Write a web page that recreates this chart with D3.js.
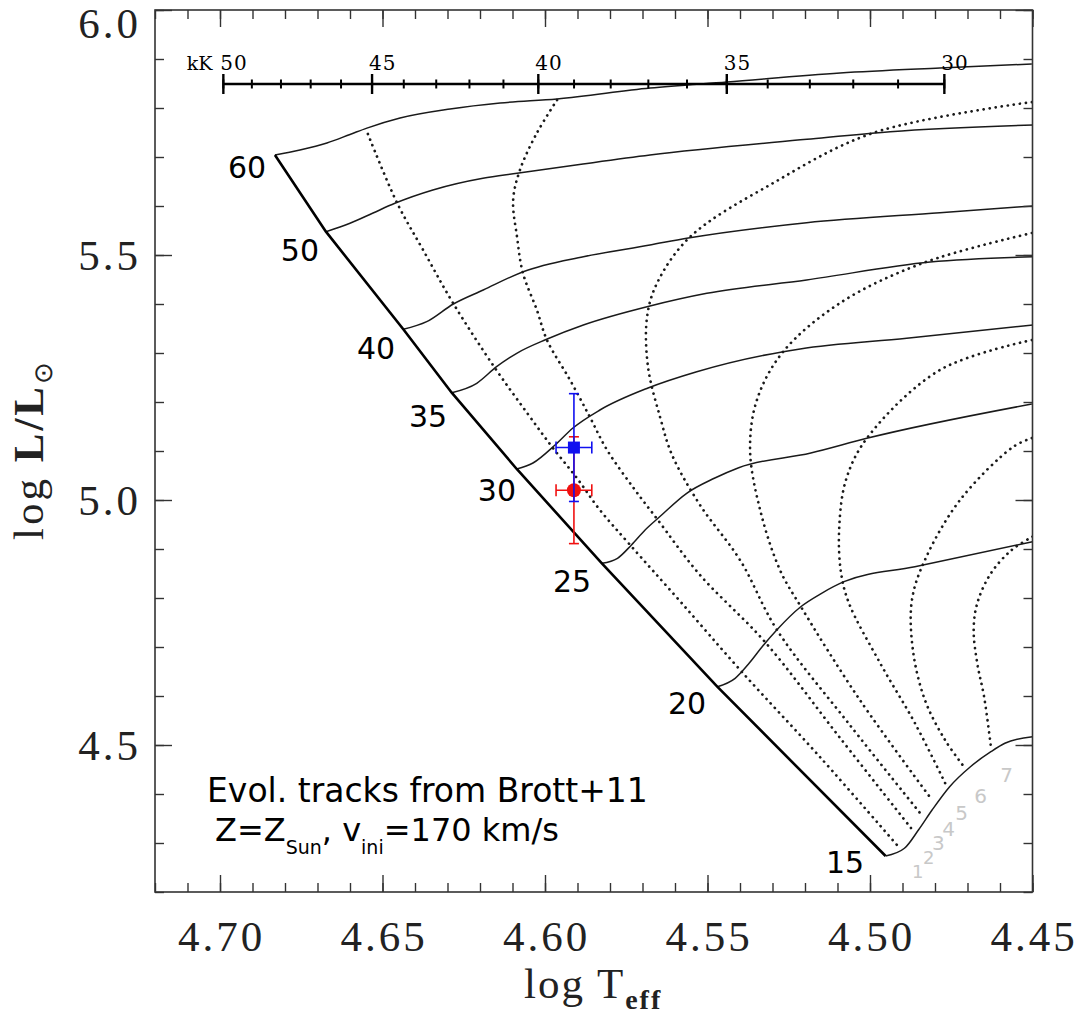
<!DOCTYPE html>
<html>
<head>
<meta charset="utf-8">
<script src="https://cdn.jsdelivr.net/npm/d3@7"></script>
<style>
  body { margin: 0; background: #fff; }
  svg { display: block; }
</style>
</head>
<body>
<svg id="chart" width="1078" height="1014"></svg>
<script>
// -------------------------
// Data (log Teff, log L/Lsun)
// -------------------------
const masses = [15, 20, 25, 30, 35, 40, 50, 60];

// evolutionary tracks, first point = ZAMS
const track15 = [[4.4952,4.2735],[4.4894,4.2892],[4.4851,4.3265],[4.4809,4.3673],[4.4755,4.4149],[4.4691,4.4557],[4.4628,4.4863],[4.4585,4.5035],[4.4500,4.5169]];
const track20 = [[4.5470,4.6190],[4.5415,4.6361],[4.5372,4.6667],[4.5330,4.7020],[4.5287,4.7347],[4.5213,4.7822],[4.5149,4.8096],[4.5080,4.8333],[4.4862,4.8639],[4.4500,4.9149]];
const track25 = [[4.5825,4.8708],[4.5777,4.8810],[4.5734,4.9082],[4.5692,4.9388],[4.5649,4.9647],[4.5564,5.0137],[4.5479,5.0443],[4.5404,5.0659],[4.5182,5.0959],[4.5010,5.1259],[4.4502,5.1959]];
const track30 = [[4.6087,5.0633],[4.6037,5.0755],[4.5969,5.1122],[4.5914,5.1469],[4.5831,5.1837],[4.5683,5.2286],[4.5533,5.2618],[4.5267,5.3027],[4.5215,5.3082],[4.4887,5.3300],[4.4498,5.3571]];
const track35 = [[4.6287,5.2190],[4.6210,5.2382],[4.6149,5.2720],[4.6087,5.2994],[4.5995,5.3280],[4.5882,5.3571],[4.5677,5.3959],[4.5502,5.4218],[4.5195,5.4490],[4.4815,5.4857],[4.4498,5.4965]];
const track40 = [[4.6436,5.3484],[4.6364,5.3639],[4.6282,5.4000],[4.6190,5.4286],[4.6067,5.4659],[4.5882,5.4965],[4.5677,5.5204],[4.5564,5.5341],[4.5195,5.5659],[4.4785,5.5863],[4.4498,5.6000]];
const track50 = [[4.6674,5.5476],[4.6600,5.5647],[4.6529,5.5857],[4.6462,5.6055],[4.6345,5.6327],[4.6191,5.6566],[4.6086,5.6667],[4.5883,5.6857],[4.5677,5.7040],[4.5194,5.7361],[4.4938,5.7516],[4.4498,5.7653]];
const track60 = [[4.6831,5.7040],[4.6754,5.7143],[4.6671,5.7286],[4.6600,5.7460],[4.6548,5.7590],[4.6446,5.7796],[4.6292,5.7980],[4.6138,5.8102],[4.5963,5.8184],[4.5677,5.8408],[4.5440,5.8531],[4.5092,5.8714],[4.4785,5.8816],[4.4502,5.8898]];
const tracks = [track15, track20, track25, track30, track35, track40, track50, track60];

// where the mass labels sit
const massLabelT = [4.5077, 4.5563, 4.5917, 4.6148, 4.6360, 4.6520, 4.6754, 4.6917];
const massLabelL = [4.2612, 4.5857, 4.8327, 5.0184, 5.1714, 5.3102, 5.5102, 5.6776];

// isochrones 1..7 Myr
const iso1 = [[4.6545,5.7469],[4.6455,5.6061],[4.6375,5.5102],[4.6283,5.4020],[4.6154,5.2694],[4.6055,5.1776],[4.5978,5.1082],[4.5902,5.0449],[4.5831,4.9796],[4.5738,4.9082],[4.5585,4.7939],[4.5394,4.6490],[4.5154,4.4755],[4.4917,4.2959]];
const iso2 = [[4.5963,5.8163],[4.6025,5.7490],[4.6077,5.6735],[4.6098,5.6122],[4.6086,5.5367],[4.6068,5.4633],[4.6025,5.3878],[4.5994,5.3265],[4.5923,5.2449],[4.5862,5.1694],[4.5809,5.1020],[4.5723,5.0204],[4.5655,4.9612],[4.5523,4.8469],[4.5323,4.7102],[4.5092,4.5143],[4.4874,4.3306]];
const iso3 = [[4.4502,5.8122],[4.4991,5.7490],[4.5298,5.6469],[4.5554,5.5367],[4.5655,5.4429],[4.5686,5.3735],[4.5683,5.2714],[4.5646,5.1694],[4.5609,5.0918],[4.5523,4.9898],[4.5400,4.8776],[4.5286,4.7347],[4.5062,4.5408],[4.4846,4.3612]];
const iso4 = [[4.4502,5.5449],[4.4837,5.4837],[4.5092,5.4020],[4.5268,5.3020],[4.5348,5.2041],[4.5369,5.1020],[4.5338,4.9796],[4.5277,4.8571],[4.5212,4.7816],[4.5031,4.5918],[4.4809,4.3878]];
const iso5 = [[4.4502,5.3265],[4.4785,5.2653],[4.5009,5.1265],[4.5074,5.0408],[4.5095,4.9388],[4.5089,4.8510],[4.5065,4.7898],[4.4969,4.6673],[4.4862,4.5449],[4.4766,4.4184]];
const iso6 = [[4.4502,5.1265],[4.4560,5.1082],[4.4723,5.0000],[4.4831,4.8776],[4.4871,4.7959],[4.4868,4.6939],[4.4831,4.5918],[4.4769,4.5102],[4.4708,4.4531]];
const iso7 = [[4.4500,4.9251],[4.4564,4.8980],[4.4628,4.8504],[4.4670,4.7892],[4.4681,4.7347],[4.4670,4.6667],[4.4649,4.5986],[4.4628,4.4965]];
const isochrones = [iso1, iso2, iso3, iso4, iso5, iso6, iso7];
const isoAges = ["1", "2", "3", "4", "5", "6", "7"];
const isoLabelT = [4.4853, 4.4819, 4.4790, 4.4758, 4.4718, 4.4660, 4.4580];
const isoLabelL = [4.2414, 4.2708, 4.2994, 4.3280, 4.3606, 4.3959, 4.4388];

// the star: two determinations
const starLogT = [4.5911, 4.5911];
const starLogL = [5.107, 5.020];
const starErrT = [0.0055, 0.0055];
const starErrL = [0.110, 0.109];
const starColor = ["#1010f0", "#f01010"];
const starShape = ["square", "circle"];

// axes
const xMajor = [4.70, 4.65, 4.60, 4.55, 4.50, 4.45];
const xMinor = d3.range(4.72, 4.449, -0.01);
const yMajor = [6.0, 5.5, 5.0, 4.5];
const yMinor = d3.range(4.2, 6.001, 0.1);
const kkMajor = [50, 45, 40, 35, 30];
const kkMinor = d3.range(30, 51, 1);
const kkLevel = 5.849; // log L where the kK ruler is drawn

// -------------------------
// Setup
// -------------------------
const svg = d3.select("#chart");
const pLeft = 155, pRight = 1032.5, pTop = 10, pBottom = 892;

const x = d3.scaleLinear().domain([4.72, 4.45]).range([pLeft, pRight]);
const y = d3.scaleLinear().domain([4.2, 6.0]).range([pBottom, pTop]);
const xk = (k) => x(Math.log10(k * 1000));

svg.append("defs").append("clipPath").attr("id", "plotClip")
	.append("rect").attr("x", pLeft).attr("y", pTop)
	.attr("width", pRight - pLeft).attr("height", pBottom - pTop);

// tracks run monotonically in x, isochrones fold back
const trackLine = d3.line()
	.x((d) => x(d[0]))
	.y((d) => y(d[1]))
	.curve(d3.curveMonotoneX);
const isoLine = d3.line()
	.x((d) => x(d[0]))
	.y((d) => y(d[1]))
	.curve(d3.curveCatmullRom.alpha(0.5));

const plot = svg.append("g").attr("clip-path", "url(#plotClip)");

// --- isochrones (dotted) ---
plot.append("g").selectAll("path")
	.data(isochrones)
	.enter().append("path")
	.attr("d", isoLine)
	.attr("fill", "none")
	.attr("stroke", "#1a1a1a")
	.attr("stroke-width", 2.7)
	.attr("stroke-linecap", "round")
	.attr("stroke-dasharray", "0.1 6");

// --- tracks ---
plot.append("g").selectAll("path")
	.data(tracks)
	.enter().append("path")
	.attr("d", trackLine)
	.attr("fill", "none")
	.attr("stroke", "#1a1a1a")
	.attr("stroke-width", 1.5);

// --- ZAMS ---
plot.append("path")
	.datum(tracks.map((t) => t[0]))
	.attr("d", d3.line().x((d) => x(d[0])).y((d) => y(d[1])))
	.attr("fill", "none")
	.attr("stroke", "#000")
	.attr("stroke-width", 2.6);

// --- mass labels ---
svg.append("g").selectAll("text")
	.data(masses)
	.enter().append("text")
	.attr("x", (d, i) => x(massLabelT[i]))
	.attr("y", (d, i) => y(massLabelL[i]))
	.attr("text-anchor", "middle")
	.attr("dominant-baseline", "central")
	.attr("font-family", "DejaVu Sans, sans-serif")
	.attr("font-size", 30)
	.attr("fill", "#000")
	.text((d) => d);

// --- isochrone ages ---
svg.append("g").selectAll("text")
	.data(isoAges)
	.enter().append("text")
	.attr("x", (d, i) => x(isoLabelT[i]))
	.attr("y", (d, i) => y(isoLabelL[i]))
	.attr("text-anchor", "middle")
	.attr("dominant-baseline", "central")
	.attr("font-family", "DejaVu Sans, sans-serif")
	.attr("font-size", (d, i) => (i < 2 ? 18 : 20))
	.attr("fill", "#c8c8c8")
	.text((d) => d);

// --- star with error bars ---
const stars = starLogT.map((t, i) => ({ t, l: starLogL[i], et: starErrT[i], el: starErrL[i], c: starColor[i], s: starShape[i] }));
const starG = svg.append("g").selectAll("g").data(stars).enter().append("g");
starG.append("line")
	.attr("x1", (d) => x(d.t)).attr("x2", (d) => x(d.t))
	.attr("y1", (d) => y(d.l - d.el)).attr("y2", (d) => y(d.l + d.el))
	.attr("stroke", (d) => d.c).attr("stroke-width", 1.6);
starG.append("line")
	.attr("x1", (d) => x(d.t - d.et)).attr("x2", (d) => x(d.t + d.et))
	.attr("y1", (d) => y(d.l)).attr("y2", (d) => y(d.l))
	.attr("stroke", (d) => d.c).attr("stroke-width", 1.6);
[-1, 1].forEach((sgn) => {
	starG.append("line")
		.attr("x1", (d) => x(d.t) - 5).attr("x2", (d) => x(d.t) + 5)
		.attr("y1", (d) => y(d.l + sgn * d.el)).attr("y2", (d) => y(d.l + sgn * d.el))
		.attr("stroke", (d) => d.c).attr("stroke-width", 1.6);
	starG.append("line")
		.attr("x1", (d) => x(d.t + sgn * d.et)).attr("x2", (d) => x(d.t + sgn * d.et))
		.attr("y1", (d) => y(d.l) - 6).attr("y2", (d) => y(d.l) + 6)
		.attr("stroke", (d) => d.c).attr("stroke-width", 1.6);
});
starG.filter((d) => d.s === "circle").append("circle")
	.attr("cx", (d) => x(d.t)).attr("cy", (d) => y(d.l)).attr("r", 7)
	.attr("fill", (d) => d.c);
starG.filter((d) => d.s === "square").append("rect")
	.attr("x", (d) => x(d.t) - 6).attr("y", (d) => y(d.l) - 6)
	.attr("width", 12).attr("height", 12)
	.attr("fill", (d) => d.c);
starG.filter((d) => d.s === "square").raise();

// --- kK ruler ---
const kk = svg.append("g").attr("stroke", "#000");
const ky = y(kkLevel);
kk.append("line").attr("x1", xk(50)).attr("x2", xk(30)).attr("y1", ky).attr("y2", ky).attr("stroke-width", 2.6);
kk.selectAll(".kmin").data(kkMinor).enter().append("line")
	.attr("x1", xk).attr("x2", xk).attr("y1", ky - 4.5).attr("y2", ky + 4.5).attr("stroke-width", 2);
kk.selectAll(".kmaj").data(kkMajor).enter().append("line")
	.attr("x1", xk).attr("x2", xk).attr("y1", ky - 10).attr("y2", ky + 10).attr("stroke-width", 2.4);
svg.append("g").selectAll("text").data(kkMajor).enter().append("text")
	.attr("x", (d) => xk(d) - 3).attr("y", ky - 14)
	.attr("font-family", "DejaVu Serif, serif").attr("font-size", 20)
	.attr("letter-spacing", 1)
	.text((d) => d);
svg.append("text").attr("x", xk(50) - 11).attr("y", ky - 14)
	.attr("text-anchor", "end")
	.attr("font-family", "DejaVu Serif, serif").attr("font-size", 19)
	.text("kK");

// --- frame + ticks on all sides ---
const axisColor = "#333";
function ticks(g) {
	g.select(".domain").remove();
	g.selectAll("line").attr("stroke", axisColor).attr("stroke-width", 1.4);
	g.selectAll("text").remove();
}
svg.append("g").attr("transform", `translate(0,${pBottom})`).call(d3.axisBottom(x).tickValues(xMinor).tickSize(-9)).call(ticks);
svg.append("g").attr("transform", `translate(0,${pBottom})`).call(d3.axisBottom(x).tickValues(xMajor).tickSize(-17)).call(ticks);
svg.append("g").attr("transform", `translate(0,${pTop})`).call(d3.axisTop(x).tickValues(xMinor).tickSize(-9)).call(ticks);
svg.append("g").attr("transform", `translate(0,${pTop})`).call(d3.axisTop(x).tickValues(xMajor).tickSize(-17)).call(ticks);
svg.append("g").attr("transform", `translate(${pLeft},0)`).call(d3.axisLeft(y).tickValues(yMinor).tickSize(-9)).call(ticks);
svg.append("g").attr("transform", `translate(${pLeft},0)`).call(d3.axisLeft(y).tickValues(yMajor).tickSize(-17)).call(ticks);
svg.append("g").attr("transform", `translate(${pRight},0)`).call(d3.axisRight(y).tickValues(yMinor).tickSize(-9)).call(ticks);
svg.append("g").attr("transform", `translate(${pRight},0)`).call(d3.axisRight(y).tickValues(yMajor).tickSize(-17)).call(ticks);

svg.append("rect").attr("x", pLeft).attr("y", pTop)
	.attr("width", pRight - pLeft).attr("height", pBottom - pTop)
	.attr("fill", "none").attr("stroke", axisColor).attr("stroke-width", 1.6);

// tick labels
const serif = "Liberation Serif, Times New Roman, serif";
svg.append("g").selectAll("text").data(xMajor).enter().append("text")
	.attr("x", (d) => x(d) + 1.5).attr("y", 951)
	.attr("text-anchor", "middle")
	.attr("font-family", serif).attr("font-size", 43).attr("letter-spacing", 3)
	.attr("fill", "#222")
	.text((d) => d.toFixed(2));
svg.append("g").selectAll("text").data(yMajor).enter().append("text")
	.attr("x", 141).attr("y", (d) => (d === 6.0 ? 38 : y(d) + 15))
	.attr("text-anchor", "end")
	.attr("font-family", serif).attr("font-size", 43).attr("letter-spacing", 3)
	.attr("fill", "#222")
	.text((d) => d.toFixed(1));

// axis titles
const xt = svg.append("text").attr("x", 524).attr("y", 998)
	.attr("font-family", serif).attr("font-size", 43).attr("letter-spacing", 2).attr("fill", "#222");
xt.append("tspan").text("log  T");
xt.append("tspan").attr("dy", 11).attr("font-size", 28).attr("font-weight", "bold").text("eff");

const yt = svg.append("text").attr("transform", "translate(43,540) rotate(-90)")
	.attr("font-family", serif).attr("font-size", 43).attr("letter-spacing", 3).attr("fill", "#222");
yt.append("tspan").text("log ");
yt.append("tspan").attr("font-weight", "bold").text("L/L");
yt.append("tspan").attr("dy", 9).attr("font-size", 26).text("\u2299");

// annotation
const note = svg.append("g").attr("font-family", "DejaVu Sans, sans-serif").attr("fill", "#000");
note.append("text").attr("x", 207).attr("y", 802).attr("font-size", 33).text("Evol. tracks from Brott+11");
const n2 = note.append("text").attr("x", 215).attr("y", 841).attr("font-size", 32);
n2.append("tspan").text("Z=Z");
n2.append("tspan").attr("dy", 13).attr("font-size", 19).text("Sun");
n2.append("tspan").attr("dy", -13).text(", v");
n2.append("tspan").attr("dy", 13).attr("font-size", 19).text("ini");
n2.append("tspan").attr("dy", -13).text("=170 km/s");
</script>
</body>
</html>
